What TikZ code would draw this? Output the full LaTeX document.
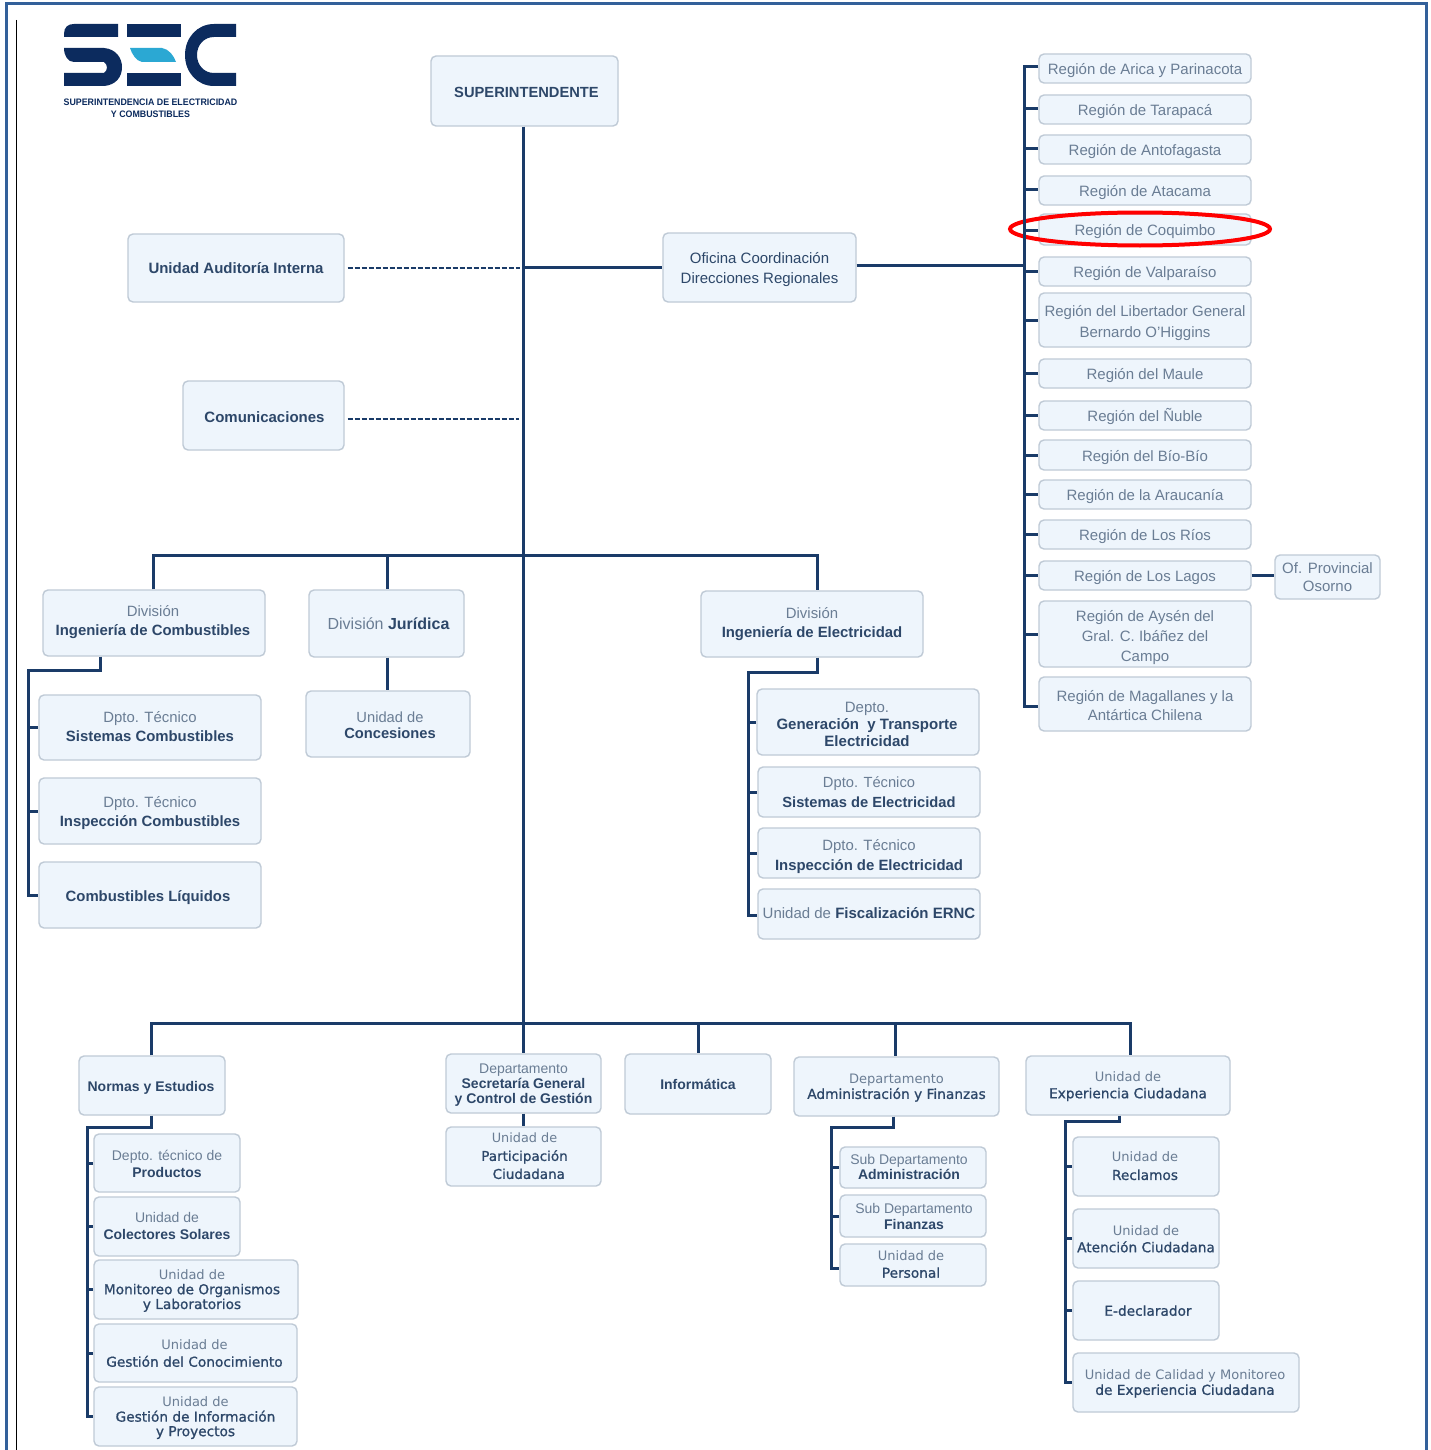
\documentclass[tikz,border=0pt]{standalone}
\usepackage{fontspec}
\setmainfont{Liberation Sans}
\newfontfamily\djfam[Scale=0.95]{DejaVu Sans}
\newfontfamily\djbfam[FakeBold=1.0]{DejaVu Sans}
\definecolor{boxfill}{HTML}{EEF5FC}
\definecolor{boxline}{HTML}{BFCAD6}
\definecolor{conn}{HTML}{1A3B68}
\definecolor{txtreg}{HTML}{6A7D94}
\definecolor{txtbold}{HTML}{2D4769}
\definecolor{framec}{HTML}{33609A}
\definecolor{logod}{HTML}{0C2B5E}
\definecolor{logoc}{HTML}{2BA8D3}
\newcommand\rg[1]{{\color{txtreg}#1}}
\newcommand\bd[1]{{\color{txtbold}\bfseries #1}}
\newcommand\drg[1]{{\color{txtreg}\djfam #1}}
\newcommand\dbd[1]{{\color{txtbold}\djbfam #1}}
\tikzset{
  bxs/.style={draw=boxline,fill=boxfill,line width=1.4pt,rounded corners=5pt,inner sep=0pt,rectangle},
  fs/.style 2 args={font=\fontsize{#1}{#2}\selectfont},
  ln/.style={draw=conn,line width=3pt,line cap=butt,line join=miter},
  dsh/.style={draw=conn,line width=1.7pt,dash pattern=on 5pt off 2pt},
}
% [style]{name}{x1}{y1}{x2}{y2}{dx}{dy}{text}
\newcommand\bx[9][]{%
  \node[bxs,#1,minimum width={(#5-#3)*1pt},minimum height={(#6-#4)*1pt}] (#2) at ({(#3+#5)/2},{(#4+#6)/2})
  {\hbox to 0pt{\hss\raisebox{\dimexpr-0.25em-2pt-#8pt\relax}[0pt][0pt]{\kern#7pt\kern#7pt\begin{tabular}{@{}c@{}}#9\end{tabular}}\hss}};}
\begin{document}
\begin{tikzpicture}[x=1pt,y=-1pt]
\useasboundingbox (0,0) rectangle (1430,1450);
\fill[white] (0,0) rectangle (1430,1450);
% frame
\draw[framec,line width=3pt] (6.5,1450) -- (6.5,4) -- (1426.5,4) -- (1426.5,1450);
\draw[black,line width=1.2pt] (16.5,20) -- (16.5,1450);
% logo
\fill[logod] (64,34) .. controls (64,27) and (68,24) .. (74,24) -- (118,24) -- (118,37) -- (64,37) -- cycle;
\fill[logod] (64,48) -- (104,48) .. controls (116,49) and (122,58) .. (122,67) .. controls (122,77) and (116,85) .. (104,86) -- (64,86) -- (64,73) -- (104,73) .. controls (108,70) and (108,65) .. (104,62) -- (74,62) .. controls (68,62) and (64,56) .. (64,48) -- cycle;
\fill[logod] (127,24) rectangle (181,37);
\fill[logoc] (130,48) -- (162,48) .. controls (169,49) and (174,56) .. (176,62) -- (142,62) .. controls (136,61) and (132,54) .. (130,48) -- cycle;
\fill[logod] (127,73) rectangle (181,86);
\fill[logod] (236,24) -- (214,24) .. controls (197,24) and (185,38) .. (185,55) .. controls (185,72) and (197,86) .. (214,86) -- (236,86) -- (236,73) -- (214,73) .. controls (204,73) and (197,65) .. (197,55) .. controls (197,45) and (204,37) .. (214,37) -- (236,37) -- cycle;
\node[inner sep=0pt,font=\fontsize{9.4}{11}\selectfont\bfseries,text=logod] (logoa) at (150.5,102) {\scalebox{0.94}[1]{SUPERINTENDENCIA DE ELECTRICIDAD}};
\node[inner sep=0pt,font=\fontsize{9.4}{11}\selectfont\bfseries,text=logod] (logob) at (150.5,114) {\scalebox{0.94}[1]{Y COMBUSTIBLES}};
% top
\bx[fs={14.7}{19}]{sup}{431}{56}{618}{126}{2}{1}{\bd{SUPERINTENDENTE}}
\bx[fs={15}{19}]{aud}{128}{234}{344}{302}{0}{0}{\bd{Unidad Auditoría Interna}}
\bx[fs={15}{20}]{ofi}{663}{233}{856}{302}{0}{0}{{\color{txtbold}Oficina Coordinación}\\{\color{txtbold}Direcciones Regionales}}
\bx[fs={15}{19}]{com}{183}{381}{344}{450}{1}{1}{\bd{Comunicaciones}}
% regions
\bx[fs={15}{20}]{r1}{1039}{54}{1251}{83}{0}{0}{\rg{Región de Arica y Parinacota}}
\bx[fs={15}{20}]{r2}{1039}{95}{1251}{124}{0}{0}{\rg{Región de Tarapacá}}
\bx[fs={15}{20}]{r3}{1039}{135}{1251}{164}{0}{0}{\rg{Región de Antofagasta}}
\bx[fs={15}{20}]{r4}{1039}{176}{1251}{205}{0}{0}{\rg{Región de Atacama}}
\bx[fs={15}{20}]{r5}{1039}{214}{1251}{245}{0}{0}{\rg{Región de Coquimbo}}
\bx[fs={15}{20}]{r6}{1039}{257}{1251}{286}{0}{0}{\rg{Región de Valparaíso}}
\bx[fs={15}{21}]{r7}{1039}{293}{1251}{347}{0}{1}{\rg{Región del Libertador General}\\\rg{Bernardo O'Higgins}}
\bx[fs={15}{20}]{r8}{1039}{359}{1251}{388}{0}{0}{\rg{Región del Maule}}
\bx[fs={15}{20}]{r9}{1039}{401}{1251}{430}{0}{0}{\rg{Región del Ñuble}}
\bx[fs={15}{20}]{r10}{1039}{440}{1251}{470}{0}{0}{\rg{Región del Bío-Bío}}
\bx[fs={15}{20}]{r11}{1039}{480}{1251}{509}{0}{0}{\rg{Región de la Araucanía}}
\bx[fs={15}{20}]{r12}{1039}{520}{1251}{549}{0}{0}{\rg{Región de Los Ríos}}
\bx[fs={15}{20}]{r13}{1039}{561}{1251}{590}{0}{0}{\rg{Región de Los Lagos}}
\bx[fs={15}{20}]{r14}{1039}{601}{1251}{667}{0}{1}{\rg{Región de Aysén del}\\\rg{Gral. C. Ibáñez del}\\\rg{Campo}}
\bx[fs={15}{19}]{r15}{1039}{677}{1251}{731}{0}{1}{\rg{Región de Magallanes y la}\\\rg{Antártica Chilena}}
\bx[fs={15}{18}]{oso}{1275}{555}{1380}{599}{0}{0}{\rg{Of. Provincial}\\\rg{Osorno}}
\draw[red,line width=4pt] (1140,229) ellipse [x radius=130,y radius=16.5];
% divisions
\bx[fs={14.9}{19}]{dcomb}{43}{590}{265}{656}{-1}{-3}{\rg{División}\\\bd{Ingeniería de Combustibles}}
\bx[fs={16}{19}]{djur}{309}{590}{464}{657}{2}{1}{\rg{División} \bd{Jurídica}}
\bx[fs={14.9}{19}]{delec}{701}{591}{923}{657}{0}{-2}{\rg{División}\\\bd{Ingeniería de Electricidad}}
\bx[fs={14.9}{19}]{ca}{39}{695}{261}{760}{0}{-1}{\rg{Dpto. Técnico}\\\bd{Sistemas Combustibles}}
\bx[fs={14.9}{19}]{cb}{39}{778}{261}{844}{0}{0}{\rg{Dpto. Técnico}\\\bd{Inspección Combustibles}}
\bx[fs={14.9}{19}]{cc}{39}{862}{261}{928}{-2}{1}{\bd{Combustibles Líquidos}}
\bx[fs={14.7}{16}]{conc}{306}{691}{470}{757}{2}{1}{\rg{Unidad de}\\\bd{Concesiones}}
\bx[fs={15}{17}]{ea}{757}{689}{979}{755}{-1}{2}{\rg{Depto.}\\\bd{Generación\ \ y Transporte}\\\bd{Electricidad}}
\bx[fs={14.7}{20}]{eb}{758}{767}{980}{817}{0}{-1}{\rg{Dpto. Técnico}\\\bd{Sistemas de Electricidad}}
\bx[fs={14.9}{20}]{ec}{758}{828}{980}{878}{0}{1}{\rg{Dpto. Técnico}\\\bd{Inspección de Electricidad}}
\bx[fs={15}{19}]{ed}{758}{889}{980}{939}{0}{-1}{\rg{Unidad de} \bd{Fiscalización ERNC}}
% bottom row
\bx[fs={14}{19}]{norm}{79}{1056}{225}{1115}{-1}{0}{\bd{Normas y Estudios}}
\bx[fs={14}{15}]{secr}{446}{1054}{601}{1113}{0}{0}{\rg{Departamento}\\\bd{Secretaría General}\\\bd{y Control de Gestión}}
\bx[fs={13.5}{18}]{part}{446}{1127}{601}{1186}{1}{-1}{\drg{Unidad de}\\\dbd{Participación}\\\dbd{\ \ Ciudadana}}
\bx[fs={14}{19}]{info}{625}{1054}{771}{1114}{0}{0}{\bd{Informática}}
\bx[fs={13.7}{14.5}]{adm}{794}{1057}{999}{1116}{0}{0}{\drg{Departamento}\\\dbd{Administración y Finanzas}}
\bx[fs={13.7}{17}]{exp}{1026}{1056}{1230}{1115}{0}{-1}{\drg{Unidad de}\\\dbd{Experiencia Ciudadana}}
\bx[fs={14}{17}]{na}{94}{1134}{240}{1192}{0}{1}{\rg{Depto. técnico de}\\\bd{Productos}}
\bx[fs={14}{17}]{nb}{94}{1197}{240}{1256}{0}{-1}{\rg{Unidad de}\\\bd{Colectores Solares}}
\bx[fs={13.7}{14.5}]{nc}{94}{1260}{298}{1319}{-4}{0}{\drg{Unidad de}\\\dbd{Monitoreo de Organismos}\\\dbd{y Laboratorios}}
\bx[fs={13.7}{17}]{nd}{94}{1324}{297}{1382}{-1}{0}{\drg{Unidad de}\\\dbd{Gestión del Conocimiento}}
\bx[fs={13.7}{14.5}]{ne}{94}{1387}{297}{1446}{0}{0}{\drg{Unidad de}\\\dbd{Gestión de Información}\\\dbd{y Proyectos}}
\bx[fs={14}{15}]{sa}{840}{1147}{986}{1188}{-4}{0}{\rg{Sub Departamento}\\\bd{Administración}}
\bx[fs={14}{16}]{sb}{840}{1195}{986}{1237}{1}{0}{\rg{Sub Departamento}\\\bd{Finanzas}}
\bx[fs={13.7}{17}]{sc}{840}{1244}{986}{1286}{-2}{-1}{\drg{Unidad de}\\\dbd{Personal}}
\bx[fs={13.7}{18}]{ua}{1073}{1137}{1219}{1196}{-1}{-1}{\drg{Unidad de}\\\dbd{Reclamos}}
\bx[fs={13.7}{17}]{ub}{1073}{1209}{1219}{1268}{0}{0}{\drg{Unidad de}\\\dbd{Atención Ciudadana}}
\bx[fs={13.7}{17}]{uc}{1073}{1281}{1219}{1340}{2}{0}{\dbd{E-declarador}}
\bx[fs={13.7}{15}]{ud}{1073}{1353}{1299}{1412}{-1}{0}{\drg{Unidad de Calidad y Monitoreo}\\\dbd{de Experiencia Ciudadana}}
% junction coordinates
\coordinate (tk) at (523,1023);
\coordinate (m) at (523,555);
\coordinate (ofj) at (523,267);
\coordinate (comj) at (519,419);
\coordinate (audj) at (520,268);
\coordinate (busR) at (1024,265);
\coordinate (busRt) at (1024,67);
\coordinate (busRb) at (1024,706);
\coordinate (midL) at (153,555);
\coordinate (midJ) at (387,555);
\coordinate (midR) at (817,555);
\coordinate (botL) at (151,1023);
\coordinate (botI) at (698,1023);
\coordinate (botA) at (895,1023);
\coordinate (botE) at (1130,1023);
% trunk and buses
\draw[ln] (tk |- sup.south) -- (tk);
\draw[ln] (midL |- dcomb.north) -- (midL) -- (midR) -- (midR |- delec.north);
\draw[ln] (midJ) -- (djur.north -| midJ);
\draw[ln] (botL |- norm.north) -- (botL) -- (botE) -- (botE |- exp.north);
\draw[ln] (tk) -- (tk |- secr.north);
\draw[ln] (botI) -- (info.north);
\draw[ln] (botA) -- (botA |- adm.north);
\draw[ln] (tk |- secr.south) -- (tk |- part.north);
\draw[ln] (djur.south -| midJ) -- (midJ |- conc.north);
\draw[dsh] ([xshift=3pt]aud.east |- audj) -- (audj);
\draw[dsh] ([xshift=3pt]com.east |- comj) -- (comj);
\draw[ln] (ofj) -- (ofi.west |- ofj);
\draw[ln] (ofi.east |- busR) -- (busR);
% regions bus
\draw[ln] (r1.west |- busRt) -- (busRt) -- (busRb) -- (r15.west |- busRb);
\foreach \n/\y in {r2/109,r3/149,r4/190,r5/230,r6/271,r7/320,r8/373,r9/415,r10/455,r11/494,r12/534,r13/575,r14/634}
  \draw[ln] (busR |- 0,\y) -- (\n.west |- 0,\y);
\draw[ln] (r13.east) -- (oso.west |- r13.east);
% combustibles
\coordinate (cbj) at (100,670);
\coordinate (cbb) at (28,895);
\draw[ln] (cbj |- dcomb.south) -- (cbj) -- (cbb |- cbj) -- (cbb) -- (cc.west |- cbb);
\draw[ln] (cbb |- ca.west) -- (ca.west);
\draw[ln] (cbb |- cb.west) -- (cb.west);
% electricidad
\coordinate (elj) at (817,672);
\coordinate (elb) at (748,915);
\draw[ln] (elj |- delec.south) -- (elj) -- (elb |- elj) -- (elb) -- (ed.west |- elb);
\draw[ln] (elb |- ea.west) -- (ea.west);
\draw[ln] (elb |- eb.west) -- (eb.west);
\draw[ln] (elb |- ec.west) -- (ec.west);
% normas
\coordinate (noj) at (151,1127);
\coordinate (nob) at (87,1416);
\draw[ln] (noj |- norm.south) -- (noj) -- (nob |- noj) -- (nob) -- (ne.west |- nob);
\foreach \n in {na,nb,nc,nd} \draw[ln] (nob |- \n.west) -- (\n.west);
% administracion
\coordinate (adj) at (893,1127);
\coordinate (adb) at (831,1268);
\draw[ln] (adj |- adm.south) -- (adj) -- (adb |- adj) -- (adb) -- (sc.west |- adb);
\foreach \n in {sa,sb} \draw[ln] (adb |- \n.west) -- (\n.west);
% experiencia
\coordinate (exj) at (1119,1121);
\coordinate (exb) at (1065,1382);
\draw[ln] (exj |- exp.south) -- (exj) -- (exb |- exj) -- (exb) -- (ud.west |- exb);
\foreach \n in {ua,ub,uc} \draw[ln] (exb |- \n.west) -- (\n.west);
\end{tikzpicture}
\end{document}
